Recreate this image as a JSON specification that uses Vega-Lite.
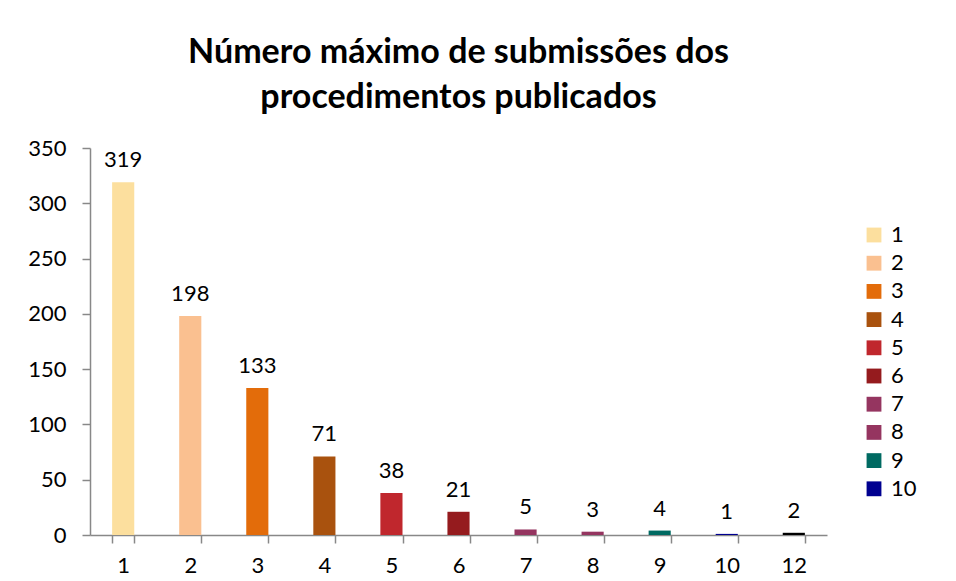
{
  "$schema": "https://vega.github.io/schema/vega-lite/v6.json",
  "autosize": "none",
  "width": 737,
  "height": 387,
  "padding": {"left": 90, "top": 148, "right": 129, "bottom": 46},
  "background": "white",
  "title": {
    "text": ["Número máximo de submissões dos", "procedimentos publicados"],
    "font": "Lato",
    "fontSize": 34,
    "fontWeight": "bold",
    "color": "black",
    "anchor": "middle",
    "offset": 22,
    "lineHeight": 45
  },
  "data": {
    "values": [
      {"cat": "1", "n": 319},
      {"cat": "2", "n": 198},
      {"cat": "3", "n": 133},
      {"cat": "4", "n": 71},
      {"cat": "5", "n": 38},
      {"cat": "6", "n": 21},
      {"cat": "7", "n": 5},
      {"cat": "8", "n": 3},
      {"cat": "9", "n": 4},
      {"cat": "10", "n": 1},
      {"cat": "12", "n": 2}
    ]
  },
  "encoding": {
    "x": {
      "field": "cat",
      "type": "nominal",
      "sort": ["1","2","3","4","5","6","7","8","9","10","12"],
      "scale": {"paddingInner": 0.67, "paddingOuter": 0.33},
      "axis": {
        "title": null,
        "labelAngle": 0,
        "labelFont": "Lato",
        "labelFontSize": 22,
        "labelColor": "black",
        "labelPadding": 12,
        "tickBand": "extent",
        "tickSize": 8,
        "tickColor": "#888888",
        "domainColor": "#888888",
        "domainWidth": 1.5,
        "tickWidth": 1.5
      }
    },
    "y": {
      "field": "n",
      "type": "quantitative",
      "scale": {"domain": [0, 350]},
      "axis": {
        "title": null,
        "values": [0, 50, 100, 150, 200, 250, 300, 350],
        "grid": false,
        "labelFont": "Lato",
        "labelFontSize": 22,
        "labelColor": "black",
        "labelPadding": 16,
        "tickSize": 8,
        "tickColor": "#888888",
        "domainColor": "#888888",
        "domainWidth": 1.5,
        "tickWidth": 1.5
      }
    }
  },
  "layer": [
    {
      "mark": {"type": "bar"},
      "encoding": {
        "color": {
          "field": "cat",
          "type": "nominal",
          "scale": {
            "domain": ["1","2","3","4","5","6","7","8","9","10","12"],
            "range": ["#FCDF9E","#FAC090","#E36C0A","#A9520E","#C0272D","#951B1E","#953560","#953560","#006A62","#000090","#000000"]
          },
          "legend": {
            "title": null,
            "values": ["1","2","3","4","5","6","7","8","9","10"],
            "orient": "none",
            "legendX": 773,
            "legendY": 76,
            "symbolType": "square",
            "symbolSize": 220,
            "symbolStrokeWidth": 0,
            "labelFont": "Lato",
            "labelFontSize": 22,
            "labelColor": "black",
            "labelOffset": 6,
            "rowPadding": 6.2
          }
        }
      }
    },
    {
      "mark": {"type": "text", "dy": -22, "font": "Lato", "fontSize": 22, "color": "black"},
      "encoding": {"text": {"field": "n", "type": "quantitative"}}
    }
  ],
  "config": {"view": {"stroke": null}}
}
